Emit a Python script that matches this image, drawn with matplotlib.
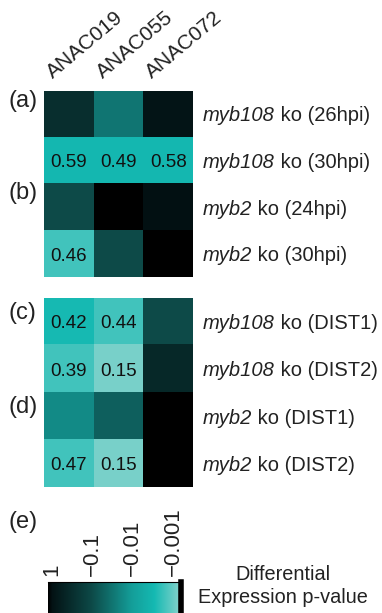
import numpy as np
import matplotlib
matplotlib.use('Agg')
from matplotlib import pyplot as plt
from matplotlib.colors import LinearSegmentedColormap, Normalize

plt.rcParams['font.family'] = ['Liberation Sans', 'DejaVu Sans']

# genes (columns)
genes = ['ANAC019', 'ANAC055', 'ANAC072']

# rows: mutant (italic) + condition, panel (a)+(b) and panel (c)+(d)
mutant_top = ['myb108', 'myb108', 'myb2', 'myb2']
cond_top = ['ko (26hpi)', 'ko (30hpi)', 'ko (24hpi)', 'ko (30hpi)']
mutant_bottom = ['myb108', 'myb108', 'myb2', 'myb2']
cond_bottom = ['ko (DIST1)', 'ko (DIST2)', 'ko (DIST1)', 'ko (DIST2)']

logp_top = [[0.5, 1.5, 0.05],
            [2.5, 2.5, 2.5],
            [1.0, -0.1, 0.0],
            [2.8, 1.0, -0.1]]
logp_bottom = [[2.55, 2.8, 1.0],
               [2.8, 3.1, 0.4],
               [1.75, 1.25, -0.1],
               [2.8, 3.1, -0.1]]

# numbers printed in cells
text_top = [['', '', ''],
            ['0.59', '0.49', '0.58'],
            ['', '', ''],
            ['0.46', '', '']]
text_bottom = [['0.42', '0.44', ''],
               ['0.39', '0.15', ''],
               ['', '', ''],
               ['0.47', '0.15', '']]

panel_labels = ['(a)', '(b)', '(c)', '(d)', '(e)']
cbar_ticks = [0, 1, 2, 3]
cbar_ticklabels = ['1', '\u22120.1', '\u22120.01', '\u22120.001']

vmin, vmax = -0.1, 3.2
cmap = LinearSegmentedColormap.from_list('teal', [
    (0.0, '#000000'),
    (0.03, '#031214'),
    (0.33, '#0d4a48'),
    (0.63, '#149e99'),
    (0.80, '#14b9b2'),
    (1.0, '#88d4cd')])
norm = Normalize(vmin=vmin, vmax=vmax)

W, H = 382, 613
fig = plt.figure(figsize=(W / 100, H / 100), dpi=100)


def px_axes(x0, y0, x1, y1):
    return fig.add_axes([x0 / W, 1 - y1 / H, (x1 - x0) / W, (y1 - y0) / H])


def draw_block(ax, vals, texts, mutants, conds):
    ax.imshow(np.array(vals), cmap=cmap, norm=norm, aspect='auto')
    for i in range(len(vals)):
        for j in range(len(vals[i])):
            if texts[i][j]:
                ax.text(j, i + 0.05, texts[i][j], ha='center', va='center',
                        fontsize=13.5, color='#111111')
    ax.set_xticks([])
    ax.set_yticks([])
    for s in ax.spines.values():
        s.set_visible(False)
    # row labels: italic mutant name followed by upright condition
    for i, (m, c) in enumerate(zip(mutants, conds)):
        t = ax.text(2.7, i + 0.16, m, style='italic', fontsize=14.5,
                    ha='left', va='baseline', color='#222222')
        ax.annotate(' ' + c, xy=(1, i + 0.16), xycoords=(t, 'data'),
                    ha='left', va='baseline', fontsize=14.5, color='#222222',
                    annotation_clip=False)


ax1 = px_axes(44, 90.7, 193, 277)
draw_block(ax1, logp_top, text_top, mutant_top, cond_top)
for j, g in enumerate(genes):
    ax1.text(j - 0.32, -0.75, g, rotation=40, rotation_mode='anchor',
             ha='left', va='baseline', fontsize=15, color='#222222')

ax2 = px_axes(44, 298, 193, 487)
draw_block(ax2, logp_bottom, text_bottom, mutant_bottom, cond_bottom)

# panel letters
for lab, y in zip(panel_labels, [101, 193, 313, 407, 522]):
    fig.text(8 / W, 1 - y / H, lab, fontsize=17, va='center', ha='left',
             color='#222222')

# colour bar
cax = px_axes(48, 582, 181, 620)
grad = np.linspace(vmin, vmax, 256).reshape(1, -1)
cax.imshow(grad, cmap=cmap, norm=norm, aspect='auto',
           extent=[vmin, vmax, 0, 1])
cax.set_xlim(vmin, vmax)
cax.set_yticks([])
cax.xaxis.tick_top()
cax.set_xticks(cbar_ticks)
cax.set_xticklabels(cbar_ticklabels, rotation=90, fontsize=16,
                    color='#222222')
cax.tick_params(axis='x', length=0, pad=4)
cax.spines['left'].set_visible(False)
cax.spines['bottom'].set_visible(False)
cax.spines['top'].set_linewidth(0.8)
cax.spines['right'].set_linewidth(4)

fig.text(283 / W, 1 - 586 / H, 'Differential\nExpression p-value',
         ha='center', va='center', fontsize=14.3, color='#222222',
         linespacing=1.25)

fig.savefig('out.png', dpi=100)
